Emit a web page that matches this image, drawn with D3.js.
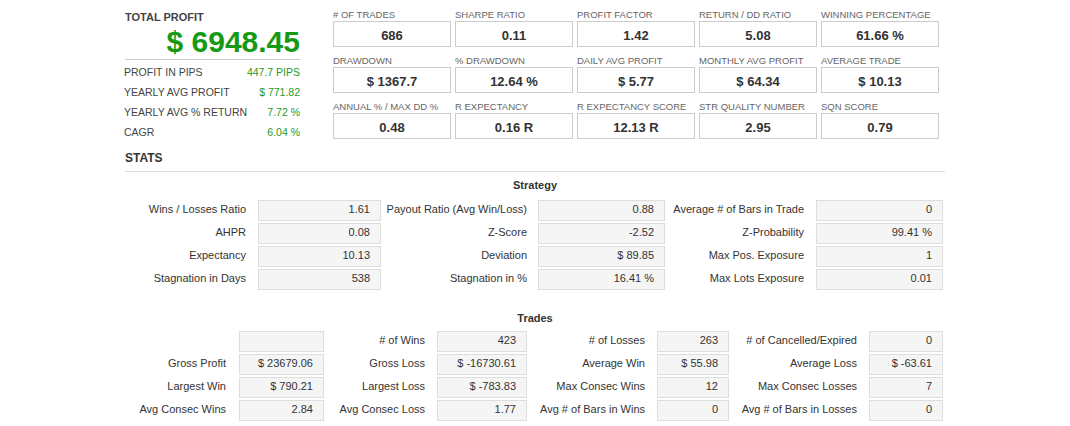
<!DOCTYPE html>
<html><head><meta charset="utf-8">
<script src="https://cdn.jsdelivr.net/npm/d3@7"></script>
<style>body{margin:0;background:#fff}text{font-family:"Liberation Sans",Arial,sans-serif}</style>
</head><body><svg id="c" width="1070" height="426"></svg>
<script>
const totalProfit = "$ 6948.45";
const sideLabels = ["PROFIT IN PIPS","YEARLY AVG PROFIT","YEARLY AVG % RETURN","CAGR"];
const sideValues = ["447.7 PIPS","$ 771.82","7.72 %","6.04 %"];
const metricLabels = ["# OF TRADES","SHARPE RATIO","PROFIT FACTOR","RETURN / DD RATIO","WINNING PERCENTAGE",
 "DRAWDOWN","% DRAWDOWN","DAILY AVG PROFIT","MONTHLY AVG PROFIT","AVERAGE TRADE",
 "ANNUAL % / MAX DD %","R EXPECTANCY","R EXPECTANCY SCORE","STR QUALITY NUMBER","SQN SCORE"];
const metricValues = ["686","0.11","1.42","5.08","61.66 %","$ 1367.7","12.64 %","$ 5.77","$ 64.34","$ 10.13",
 "0.48","0.16 R","12.13 R","2.95","0.79"];
const stratLabels = [["Wins / Losses Ratio","AHPR","Expectancy","Stagnation in Days"],
 ["Payout Ratio (Avg Win/Loss)","Z-Score","Deviation","Stagnation in %"],
 ["Average # of Bars in Trade","Z-Probability","Max Pos. Exposure","Max Lots Exposure"]];
const stratValues = [["1.61","0.08","10.13","538"],["0.88","-2.52","$ 89.85","16.41 %"],["0","99.41 %","1","0.01"]];
const tradeLabels = [["","Gross Profit","Largest Win","Avg Consec Wins"],
 ["# of Wins","Gross Loss","Largest Loss","Avg Consec Loss"],
 ["# of Losses","Average Win","Max Consec Wins","Avg # of Bars in Wins"],
 ["# of Cancelled/Expired","Average Loss","Max Consec Losses","Avg # of Bars in Losses"]];
const tradeValues = [["","$ 23679.06","$ 790.21","2.84"],["423","$ -16730.61","$ -783.83","1.77"],
 ["263","$ 55.98","12","0"],["0","$ -63.61","7","0"]];

const svg = d3.select("#c");
const green = "#1f9a1f", grey="#444";
svg.append("text").attr("x",125).attr("y",21).attr("font-size",11).attr("font-weight","bold").attr("fill",grey).text("TOTAL PROFIT");
svg.append("text").attr("x",300).attr("y",52).attr("text-anchor","end").attr("font-size",30).attr("font-weight","bold").attr("fill","#169a16").text(totalProfit);
svg.append("line").attr("x1",125).attr("x2",300).attr("y1",59.5).attr("y2",59.5).attr("stroke","#ccc");
const sy = d3.scalePoint().domain(d3.range(4)).range([76,136]);
svg.selectAll(".sl").data(sideLabels).join("text").attr("x",124).attr("y",(d,i)=>sy(i)).attr("font-size",10.5).attr("fill",grey).text(d=>d);
svg.selectAll(".sv").data(sideValues).join("text").attr("x",300).attr("y",(d,i)=>sy(i)).attr("text-anchor","end").attr("font-size",10.5).attr("fill",green).text(d=>d);

const mx = d3.scaleLinear().domain([0,1]).range([333,455]);
const my = d3.scaleLinear().domain([0,1]).range([0,46]);
const mg = svg.selectAll(".m").data(metricLabels).join("g").attr("transform",(d,i)=>`translate(${mx(i%5)},${my(Math.floor(i/5))})`);
mg.append("text").attr("x",0).attr("y",18).attr("font-size",9.5).attr("fill","#666").text(d=>d);
mg.append("rect").attr("x",0.5).attr("y",21.5).attr("width",117).attr("height",25).attr("fill","#fff").attr("stroke","#ccc");
mg.append("text").attr("x",59).attr("y",40).attr("text-anchor","middle").attr("font-size",13).attr("font-weight","bold").attr("fill","#333").text((d,i)=>metricValues[i]);

svg.append("text").attr("x",125).attr("y",162).attr("font-size",12).attr("font-weight","bold").attr("fill","#333").text("STATS");
svg.append("line").attr("x1",125).attr("x2",945).attr("y1",171.5).attr("y2",171.5).attr("stroke","#ddd");

function section(title, ty, labels, values, cols, y0){
  svg.append("text").attr("x",535).attr("y",ty).attr("text-anchor","middle").attr("font-size",11).attr("font-weight","bold").attr("fill","#333").text(title);
  const ry = d3.scaleLinear().domain([0,1]).range([y0,y0+23]);
  labels.forEach((col,c)=>{
    const cfg=cols[c];
    col.forEach((lab,r)=>{
      const y=ry(r);
      svg.append("text").attr("x",cfg.lr).attr("y",y+13).attr("text-anchor","end").attr("font-size",11).attr("fill","#333").text(lab);
      svg.append("rect").attr("x",cfg.bx+0.5).attr("y",y+0.5).attr("width",cfg.bw).attr("height",20).attr("fill","#f5f5f5").attr("stroke","#ddd");
      svg.append("text").attr("x",cfg.bx+cfg.bw-10).attr("y",y+13).attr("text-anchor","end").attr("font-size",11).attr("fill","#333").text(values[c][r]);
    });
  });
}
section("Strategy",189,stratLabels,stratValues,[{lr:246,bx:258,bw:122},{lr:527,bx:538,bw:126},{lr:804,bx:816,bw:126}],200);
section("Trades",322,tradeLabels,tradeValues,[{lr:226,bx:239,bw:84},{lr:425,bx:437,bw:89},{lr:645,bx:657,bw:71},{lr:857,bx:869,bw:73}],331);
</script></body></html>
